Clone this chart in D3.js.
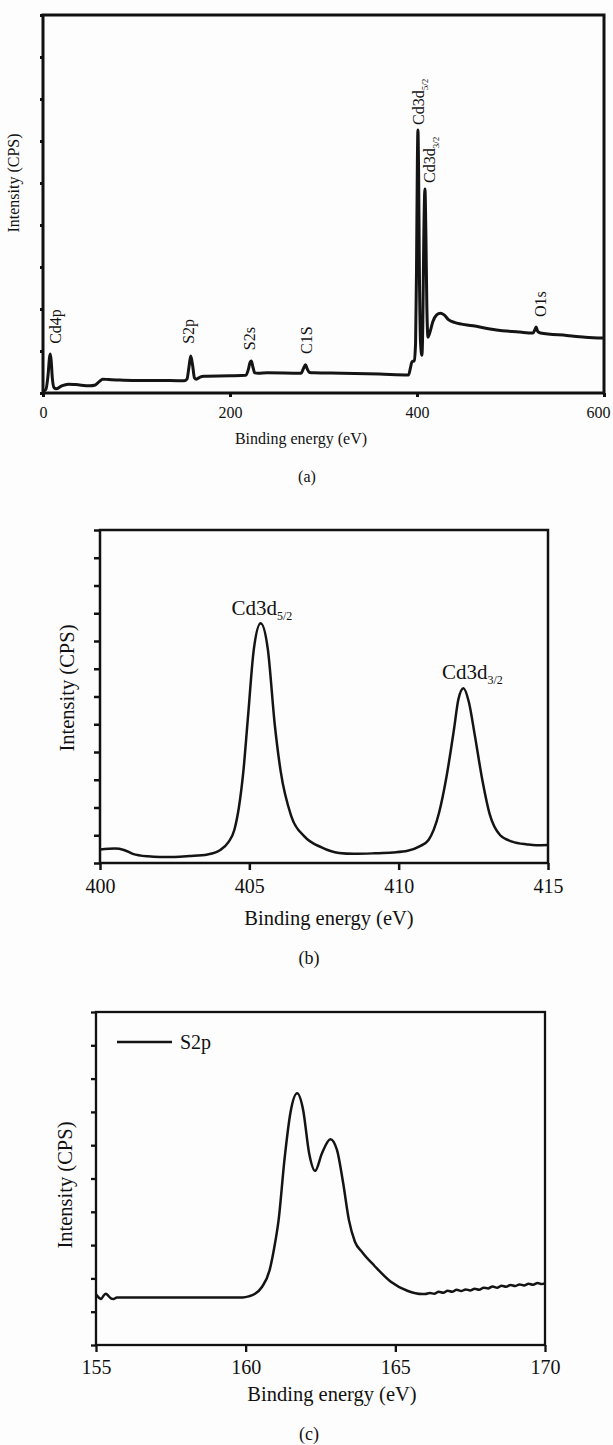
<!DOCTYPE html>
<html>
<head>
<meta charset="utf-8">
<script src="https://cdn.jsdelivr.net/npm/d3@7"></script>
<style>
  body { margin: 0; background: #fdfdfd; }
  svg { display: block; }
  text { font-family: "Liberation Serif", "Times New Roman", serif; fill: #111; }
</style>
</head>
<body>
<svg id="fig" width="613" height="1445"></svg>
<script>
// ---------- (a) survey spectrum ----------
const surveyEV = [0, 3, 5.5, 7, 7.8, 8.8, 10, 12, 14, 20, 27, 35, 50, 56, 60, 64, 70, 80, 96, 120,
  151, 154, 156, 158, 160, 162, 164, 168, 172, 200, 217, 219.5, 221.5, 222.8, 224.5, 226.5, 230, 240,
  276, 278.5, 280.8, 282.5, 285, 290, 320, 360, 391, 393, 394.5, 397, 398.5, 399.5, 400.4, 401, 401.7,
  402.6, 403.8, 405.2, 406.2, 407.2, 408.5, 409.5, 410.5, 411.8, 413.5, 417, 421, 425, 429, 434, 440,
  460, 485, 510, 524, 526, 527.4, 529, 532, 560, 580, 600];
const surveyCPS = [0.04, 0.08, 0.45, 0.85, 0.93, 0.75, 0.35, 0.12, 0.1, 0.17, 0.21, 0.2, 0.17, 0.19, 0.27, 0.33, 0.32, 0.31, 0.3, 0.3,
  0.29, 0.33, 0.6, 0.88, 0.66, 0.36, 0.33, 0.38, 0.4, 0.41, 0.42, 0.55, 0.73, 0.76, 0.62, 0.48, 0.47, 0.48,
  0.47, 0.58, 0.67, 0.58, 0.49, 0.48, 0.47, 0.45, 0.43, 0.6, 0.74, 0.77, 1.2, 3, 5.5, 6.26, 5.3,
  2.8, 1.2, 0.9, 1.6, 3.6, 4.86, 3.8, 2.1, 1.33, 1.42, 1.7, 1.86, 1.9, 1.86, 1.74, 1.68,
  1.6, 1.5, 1.45, 1.43, 1.5, 1.57, 1.47, 1.43, 1.37, 1.33, 1.31];
const surveyTicksX = [0, 200, 400, 600];
const surveyTicksY = [0, 1, 2, 3, 4, 5, 6, 7, 8, 9];
// peak labels: name, subscript, label anchor (eV, CPS)
const surveyPeakNames = ["Cd4p", "S2p", "S2s", "C1S", "Cd3d", "Cd3d", "O1s"];
const surveyPeakSubs = ["", "", "", "", "5/2", "3/2", ""];
const surveyLabelEV = [19.3, 162, 226.7, 287.7, 407, 419.3, 538];
const surveyLabelCPS = [1.17, 1.17, 1.02, 0.93, 6.38, 5.0, 1.81];

// ---------- (b) Cd 3d region ----------
const cdEV = [400.0, 400.5, 400.8, 401.1, 401.6, 402.0, 402.5, 403.0, 403.6, 404.0, 404.3, 404.5, 404.65,
  404.8, 404.95, 405.15, 405.38, 405.62, 405.85, 406.05, 406.4, 406.85, 407.4, 408.0, 408.5, 409.2, 409.8,
  410.3, 410.7, 411.0, 411.35, 411.6, 411.85, 412.0, 412.17, 412.35, 412.55, 412.8, 413.05, 413.4, 413.8,
  414.3, 414.6, 415.0];
const cdCPS = [0.49, 0.52, 0.47, 0.33, 0.24, 0.22, 0.22, 0.25, 0.31, 0.45, 0.75, 1.2, 2.0,
  3.3, 5.2, 7.7, 8.64, 7.7, 5.0, 3.3, 1.7, 0.95, 0.57, 0.36, 0.33, 0.35, 0.38,
  0.44, 0.6, 0.83, 1.8, 3.1, 4.8, 5.9, 6.3, 5.8, 4.6, 3.0, 1.75, 1.0, 0.77,
  0.67, 0.64, 0.65];
const cdTicksX = [400, 405, 410, 415];
const cdTicksY = d3.range(0, 13);
const cdPeakNames = ["Cd3d", "Cd3d"];
const cdPeakSubs = ["5/2", "3/2"];
const cdLabelEV = [405.42, 412.47];
const cdLabelCPS = [8.94, 6.63];

// ---------- (c) S 2p region ----------
const sEV = [155.0, 155.1, 155.17, 155.25, 155.33, 155.42, 155.5, 155.58, 155.7, 157.0, 158.5, 159.9,
  160.1, 160.3, 160.55, 160.8, 160.95, 161.1, 161.3, 161.5, 161.72, 161.92, 162.12, 162.32, 162.55,
  162.83, 163.05, 163.25, 163.45, 163.65, 163.9, 164.3, 164.85, 165.4, 165.9,
  166.0, 166.15, 166.3, 166.45, 166.6, 166.75, 166.9, 167.05, 167.2, 167.35, 167.5, 167.65, 167.8,
  167.95, 168.1, 168.25, 168.4, 168.55, 168.7, 168.85, 169.0, 169.15, 169.3, 169.45, 169.6, 169.75,
  169.9, 170.0];
const sCPS = [1.52, 1.42, 1.38, 1.48, 1.54, 1.47, 1.4, 1.38, 1.43, 1.43, 1.43, 1.43,
  1.46, 1.53, 1.75, 2.25, 2.9, 3.75, 5.6, 7.0, 7.56, 7.06, 5.76, 5.23, 5.76,
  6.18, 5.86, 4.9, 3.75, 3.1, 2.78, 2.38, 1.9, 1.63, 1.53,
  1.53, 1.56, 1.54, 1.6, 1.57, 1.63, 1.6, 1.66, 1.62, 1.67, 1.64, 1.69, 1.66,
  1.72, 1.7, 1.76, 1.72, 1.78, 1.75, 1.8, 1.77, 1.82, 1.79, 1.84, 1.81, 1.86,
  1.83, 1.86];
const sTicksX = [155, 160, 165, 170];
const sTicksY = d3.range(0, 11);
const sSeriesName = "S2p";

const xTitle = "Binding energy (eV)";
const yTitle = "Intensity (CPS)";

const svg = d3.select("#fig");

// Draws one framed panel with its spectrum; returns the scales.
function panel(cfg) {
  const g = svg.append("g");
  const x = d3.scaleLinear().domain(cfg.xDomain).range([cfg.left, cfg.right]);
  const y = d3.scaleLinear().domain(cfg.yDomain).range([cfg.bottom, cfg.top]);

  const yAxis = d3.axisLeft(y).tickValues(cfg.yTicks).tickSize(cfg.yTickLen).tickFormat("");
  const ay = g.append("g").attr("transform", `translate(${cfg.left},0)`).call(yAxis);
  ay.select(".domain").remove();
  ay.selectAll("line").attr("stroke", "#111").attr("stroke-width", cfg.frameW);

  const xAxis = d3.axisBottom(x).tickValues(cfg.xTicks).tickSize(cfg.xTickLen).tickPadding(cfg.tickPad);
  const ax = g.append("g").attr("transform", `translate(0,${cfg.bottom})`).call(xAxis);
  ax.select(".domain").remove();
  ax.selectAll("line").attr("stroke", "#111").attr("stroke-width", cfg.frameW);
  ax.selectAll("text")
    .attr("font-family", '"Liberation Serif", "Times New Roman", serif')
    .attr("font-size", cfg.tickFont)
    .attr("fill", "#111")
    .attr("dy", null)
    .attr("y", cfg.tickBaseline - cfg.bottom);
  // keep the last tick label inside the page edge
  if (cfg.lastTickShift) {
    ax.selectAll(".tick").filter((d, i, n) => i === n.length - 1)
      .select("text").attr("dx", cfg.lastTickShift);
  }

  g.append("rect")
    .attr("x", cfg.left).attr("y", cfg.top)
    .attr("width", cfg.right - cfg.left).attr("height", cfg.bottom - cfg.top)
    .attr("fill", "none").attr("stroke", "#111").attr("stroke-width", cfg.frameW);

  const pts = cfg.ev.map((e, i) => [e, cfg.cps[i]]);
  g.append("path")
    .datum(pts)
    .attr("fill", "none")
    .attr("stroke", "#141414")
    .attr("stroke-width", cfg.lineW)
    .attr("stroke-linejoin", "round")
    .attr("d", d3.line().x(d => x(d[0])).y(d => y(d[1])).curve(d3.curveMonotoneX));

  g.append("text")
    .attr("x", cfg.xTitleX).attr("y", cfg.xTitleY)
    .attr("text-anchor", "middle").attr("font-size", cfg.titleFont)
    .text(xTitle);

  g.append("text")
    .attr("transform", `translate(${cfg.yTitleX},${cfg.yTitleY}) rotate(-90)`)
    .attr("text-anchor", "middle").attr("font-size", cfg.titleFont)
    .text(yTitle);

  g.append("text")
    .attr("x", cfg.capX).attr("y", cfg.capY)
    .attr("text-anchor", "middle").attr("font-size", cfg.capFont)
    .text(cfg.caption);

  return { g, x, y };
}

// (a)
const pa = panel({
  left: 43, right: 604, top: 15, bottom: 393,
  xDomain: [0, 600], yDomain: [0, 9], xTicks: surveyTicksX, yTicks: surveyTicksY,
  yTickLen: 3, xTickLen: 4, tickPad: 6, tickFont: 16, tickBaseline: 418, lastTickShift: -6,
  frameW: 3, lineW: 3, ev: surveyEV, cps: surveyCPS,
  titleFont: 16, xTitleX: 301, xTitleY: 444, yTitleX: 18.5, yTitleY: 183,
  caption: "(a)", capX: 307, capY: 482, capFont: 16
});
surveyPeakNames.forEach((name, i) => {
  const t = pa.g.append("text")
    .attr("transform", `translate(${pa.x(surveyLabelEV[i])},${pa.y(surveyLabelCPS[i])}) rotate(-90)`)
    .attr("font-size", 16)
    .text(name);
  if (surveyPeakSubs[i]) {
    t.append("tspan").attr("font-size", 9).attr("dy", 4).text(surveyPeakSubs[i]);
  }
});

// (b)
const pb = panel({
  left: 100, right: 548, top: 530, bottom: 863,
  xDomain: [400, 415], yDomain: [0, 12], xTicks: cdTicksX, yTicks: cdTicksY,
  yTickLen: 6, xTickLen: 7, tickPad: 8, tickFont: 20, tickBaseline: 893,
  frameW: 2.5, lineW: 2.5, ev: cdEV, cps: cdCPS,
  titleFont: 20.5, xTitleX: 329, xTitleY: 925, yTitleX: 74, yTitleY: 688,
  caption: "(b)", capX: 309, capY: 964, capFont: 18
});
cdPeakNames.forEach((name, i) => {
  const t = pb.g.append("text")
    .attr("x", pb.x(cdLabelEV[i])).attr("y", pb.y(cdLabelCPS[i]))
    .attr("text-anchor", "middle")
    .attr("font-size", 21)
    .text(name);
  t.append("tspan").attr("font-size", 12).attr("dy", 5).text(cdPeakSubs[i]);
});

// (c)
const pc = panel({
  left: 96, right: 545, top: 1012, bottom: 1345,
  xDomain: [155, 170], yDomain: [0, 10], xTicks: sTicksX, yTicks: sTicksY,
  yTickLen: 5, xTickLen: 7, tickPad: 8, tickFont: 20, tickBaseline: 1374,
  frameW: 2.3, lineW: 2.5, ev: sEV, cps: sCPS,
  titleFont: 20.5, xTitleX: 332, xTitleY: 1401, yTitleX: 72, yTitleY: 1185,
  caption: "(c)", capX: 309, capY: 1440, capFont: 18
});
// legend
pc.g.append("line")
  .attr("x1", 117).attr("x2", 172).attr("y1", 1042).attr("y2", 1042)
  .attr("stroke", "#141414").attr("stroke-width", 2.5);
pc.g.append("text")
  .attr("x", 180).attr("y", 1049)
  .attr("font-size", 20)
  .text(sSeriesName);
</script>
</body>
</html>
